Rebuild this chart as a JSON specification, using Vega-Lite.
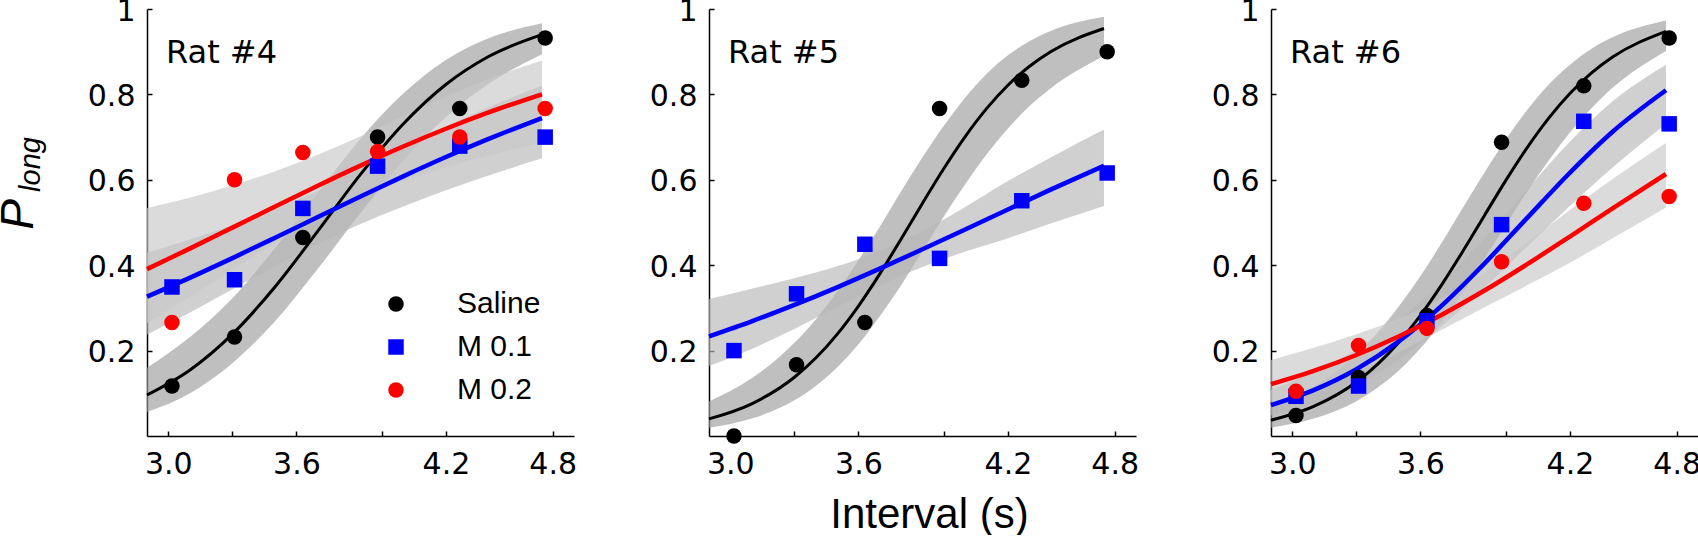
{
  "$schema": "https://vega.github.io/schema/vega-lite/v6.json",
  "padding": {"left": -5, "top": -4, "right": 0, "bottom": 0},
  "background": "white",
  "spacing": 135,
  "bounds": "flush",
  "config": {
    "font": "Liberation Sans",
    "view": {"stroke": null},
    "axis": {
      "grid": false,
      "domainColor": "black",
      "domainWidth": 1.5,
      "tickColor": "black",
      "tickWidth": 1.5,
      "tickSize": -5,
      "labelFont": "DejaVu Sans",
      "labelFontSize": 30,
      "labelColor": "black",
      "titleColor": "black",
      "titleFontWeight": "normal",
      "labelFlush": false,
      "labelOverlap": false,
      "labelBound": false
    },
    "axisX": {"labelPadding": 18},
    "axisY": {"labelPadding": 17, "labelOffset": 2},
    "title": {"font": "DejaVu Sans", "fontSize": 32, "fontWeight": "normal", "color": "black", "anchor": "start", "frame": "group", "baseline": "alphabetic", "offset": -74, "dx": 19}
  },
  "resolve": {"scale": {"color": "independent", "shape": "independent", "fill": "independent"}},
  "datasets": {
    "points": [
      {"rat": "Rat #4", "group": "Saline", "x": 3.017, "p": 0.117},
      {"rat": "Rat #4", "group": "Saline", "x": 3.31, "p": 0.232},
      {"rat": "Rat #4", "group": "Saline", "x": 3.63, "p": 0.465},
      {"rat": "Rat #4", "group": "Saline", "x": 3.98, "p": 0.7},
      {"rat": "Rat #4", "group": "Saline", "x": 4.365, "p": 0.767},
      {"rat": "Rat #4", "group": "Saline", "x": 4.765, "p": 0.932},
      {"rat": "Rat #4", "group": "M 0.1", "x": 3.017, "p": 0.349},
      {"rat": "Rat #4", "group": "M 0.1", "x": 3.31, "p": 0.366},
      {"rat": "Rat #4", "group": "M 0.1", "x": 3.63, "p": 0.533},
      {"rat": "Rat #4", "group": "M 0.1", "x": 3.98, "p": 0.632},
      {"rat": "Rat #4", "group": "M 0.1", "x": 4.365, "p": 0.679},
      {"rat": "Rat #4", "group": "M 0.1", "x": 4.765, "p": 0.7},
      {"rat": "Rat #4", "group": "M 0.2", "x": 3.017, "p": 0.266},
      {"rat": "Rat #4", "group": "M 0.2", "x": 3.31, "p": 0.6},
      {"rat": "Rat #4", "group": "M 0.2", "x": 3.63, "p": 0.664},
      {"rat": "Rat #4", "group": "M 0.2", "x": 3.98, "p": 0.666},
      {"rat": "Rat #4", "group": "M 0.2", "x": 4.365, "p": 0.7},
      {"rat": "Rat #4", "group": "M 0.2", "x": 4.765, "p": 0.767},
      {"rat": "Rat #5", "group": "Saline", "x": 3.017, "p": 0.0},
      {"rat": "Rat #5", "group": "Saline", "x": 3.31, "p": 0.167},
      {"rat": "Rat #5", "group": "Saline", "x": 3.63, "p": 0.266},
      {"rat": "Rat #5", "group": "Saline", "x": 3.98, "p": 0.767},
      {"rat": "Rat #5", "group": "Saline", "x": 4.365, "p": 0.833},
      {"rat": "Rat #5", "group": "Saline", "x": 4.765, "p": 0.9},
      {"rat": "Rat #5", "group": "M 0.1", "x": 3.017, "p": 0.2},
      {"rat": "Rat #5", "group": "M 0.1", "x": 3.31, "p": 0.333},
      {"rat": "Rat #5", "group": "M 0.1", "x": 3.63, "p": 0.449},
      {"rat": "Rat #5", "group": "M 0.1", "x": 3.98, "p": 0.416},
      {"rat": "Rat #5", "group": "M 0.1", "x": 4.365, "p": 0.551},
      {"rat": "Rat #5", "group": "M 0.1", "x": 4.765, "p": 0.616},
      {"rat": "Rat #6", "group": "Saline", "x": 3.017, "p": 0.048},
      {"rat": "Rat #6", "group": "Saline", "x": 3.31, "p": 0.137},
      {"rat": "Rat #6", "group": "Saline", "x": 3.63, "p": 0.282},
      {"rat": "Rat #6", "group": "Saline", "x": 3.98, "p": 0.688},
      {"rat": "Rat #6", "group": "Saline", "x": 4.365, "p": 0.82},
      {"rat": "Rat #6", "group": "Saline", "x": 4.765, "p": 0.932},
      {"rat": "Rat #6", "group": "M 0.1", "x": 3.017, "p": 0.093},
      {"rat": "Rat #6", "group": "M 0.1", "x": 3.31, "p": 0.117},
      {"rat": "Rat #6", "group": "M 0.1", "x": 3.63, "p": 0.27},
      {"rat": "Rat #6", "group": "M 0.1", "x": 3.98, "p": 0.495},
      {"rat": "Rat #6", "group": "M 0.1", "x": 4.365, "p": 0.737},
      {"rat": "Rat #6", "group": "M 0.1", "x": 4.765, "p": 0.731},
      {"rat": "Rat #6", "group": "M 0.2", "x": 3.017, "p": 0.105},
      {"rat": "Rat #6", "group": "M 0.2", "x": 3.31, "p": 0.212},
      {"rat": "Rat #6", "group": "M 0.2", "x": 3.63, "p": 0.252},
      {"rat": "Rat #6", "group": "M 0.2", "x": 3.98, "p": 0.408},
      {"rat": "Rat #6", "group": "M 0.2", "x": 4.365, "p": 0.545},
      {"rat": "Rat #6", "group": "M 0.2", "x": 4.765, "p": 0.561}
    ],
    "fits": [
      {"rat": "Rat #4", "group": "Saline", "x": 2.9, "p": 0.096, "lo": 0.0562, "hi": 0.1596},
      {"rat": "Rat #4", "group": "Saline", "x": 3.1, "p": 0.154, "lo": 0.0997, "hi": 0.2313},
      {"rat": "Rat #4", "group": "Saline", "x": 3.3, "p": 0.2385, "lo": 0.1706, "hi": 0.3228},
      {"rat": "Rat #4", "group": "Saline", "x": 3.5, "p": 0.3495, "lo": 0.2687, "hi": 0.44},
      {"rat": "Rat #4", "group": "Saline", "x": 3.7, "p": 0.4798, "lo": 0.3915, "hi": 0.5693},
      {"rat": "Rat #4", "group": "Saline", "x": 3.9, "p": 0.6127, "lo": 0.5222, "hi": 0.6961},
      {"rat": "Rat #4", "group": "Saline", "x": 4.1, "p": 0.7308, "lo": 0.6454, "hi": 0.802},
      {"rat": "Rat #4", "group": "Saline", "x": 4.3, "p": 0.8233, "lo": 0.7463, "hi": 0.8808},
      {"rat": "Rat #4", "group": "Saline", "x": 4.5, "p": 0.8888, "lo": 0.8247, "hi": 0.9314},
      {"rat": "Rat #4", "group": "Saline", "x": 4.75, "p": 0.94, "lo": 0.8941, "hi": 0.9668},
      {"rat": "Rat #4", "group": "M 0.1", "x": 2.9, "p": 0.3264, "lo": 0.2378, "hi": 0.4294},
      {"rat": "Rat #4", "group": "M 0.1", "x": 3.1, "p": 0.3704, "lo": 0.2889, "hi": 0.4599},
      {"rat": "Rat #4", "group": "M 0.1", "x": 3.3, "p": 0.4166, "lo": 0.3438, "hi": 0.4934},
      {"rat": "Rat #4", "group": "M 0.1", "x": 3.5, "p": 0.4644, "lo": 0.3982, "hi": 0.5318},
      {"rat": "Rat #4", "group": "M 0.1", "x": 3.7, "p": 0.5128, "lo": 0.4505, "hi": 0.5748},
      {"rat": "Rat #4", "group": "M 0.1", "x": 3.9, "p": 0.561, "lo": 0.4964, "hi": 0.6238},
      {"rat": "Rat #4", "group": "M 0.1", "x": 4.1, "p": 0.6081, "lo": 0.5373, "hi": 0.6747},
      {"rat": "Rat #4", "group": "M 0.1", "x": 4.3, "p": 0.6533, "lo": 0.5753, "hi": 0.7238},
      {"rat": "Rat #4", "group": "M 0.1", "x": 4.5, "p": 0.6958, "lo": 0.61, "hi": 0.7698},
      {"rat": "Rat #4", "group": "M 0.1", "x": 4.75, "p": 0.7446, "lo": 0.6502, "hi": 0.8206},
      {"rat": "Rat #4", "group": "M 0.2", "x": 2.9, "p": 0.3908, "lo": 0.2643, "hi": 0.5339},
      {"rat": "Rat #4", "group": "M 0.2", "x": 3.1, "p": 0.4388, "lo": 0.3261, "hi": 0.5582},
      {"rat": "Rat #4", "group": "M 0.2", "x": 3.3, "p": 0.488, "lo": 0.3899, "hi": 0.5871},
      {"rat": "Rat #4", "group": "M 0.2", "x": 3.5, "p": 0.5374, "lo": 0.4526, "hi": 0.6201},
      {"rat": "Rat #4", "group": "M 0.2", "x": 3.7, "p": 0.5861, "lo": 0.5095, "hi": 0.6588},
      {"rat": "Rat #4", "group": "M 0.2", "x": 3.9, "p": 0.6332, "lo": 0.5587, "hi": 0.7018},
      {"rat": "Rat #4", "group": "M 0.2", "x": 4.1, "p": 0.6779, "lo": 0.5972, "hi": 0.7491},
      {"rat": "Rat #4", "group": "M 0.2", "x": 4.3, "p": 0.7195, "lo": 0.63, "hi": 0.7945},
      {"rat": "Rat #4", "group": "M 0.2", "x": 4.5, "p": 0.7577, "lo": 0.657, "hi": 0.8362},
      {"rat": "Rat #4", "group": "M 0.2", "x": 4.75, "p": 0.8002, "lo": 0.6873, "hi": 0.8795},
      {"rat": "Rat #5", "group": "Saline", "x": 2.9, "p": 0.04, "lo": 0.0193, "hi": 0.081},
      {"rat": "Rat #5", "group": "Saline", "x": 3.1, "p": 0.0754, "lo": 0.0408, "hi": 0.135},
      {"rat": "Rat #5", "group": "Saline", "x": 3.3, "p": 0.1376, "lo": 0.0835, "hi": 0.2184},
      {"rat": "Rat #5", "group": "Saline", "x": 3.4, "p": 0.1826, "lo": 0.1172, "hi": 0.2731},
      {"rat": "Rat #5", "group": "Saline", "x": 3.5, "p": 0.2381, "lo": 0.1607, "hi": 0.3378},
      {"rat": "Rat #5", "group": "Saline", "x": 3.6, "p": 0.3044, "lo": 0.2147, "hi": 0.4117},
      {"rat": "Rat #5", "group": "Saline", "x": 3.7, "p": 0.3798, "lo": 0.2807, "hi": 0.4898},
      {"rat": "Rat #5", "group": "Saline", "x": 3.8, "p": 0.4614, "lo": 0.3532, "hi": 0.5732},
      {"rat": "Rat #5", "group": "Saline", "x": 3.9, "p": 0.5452, "lo": 0.4332, "hi": 0.6527},
      {"rat": "Rat #5", "group": "Saline", "x": 4.0, "p": 0.6265, "lo": 0.5142, "hi": 0.7265},
      {"rat": "Rat #5", "group": "Saline", "x": 4.1, "p": 0.7013, "lo": 0.5898, "hi": 0.793},
      {"rat": "Rat #5", "group": "Saline", "x": 4.2, "p": 0.7666, "lo": 0.659, "hi": 0.848},
      {"rat": "Rat #5", "group": "Saline", "x": 4.3, "p": 0.8213, "lo": 0.7201, "hi": 0.8914},
      {"rat": "Rat #5", "group": "Saline", "x": 4.4, "p": 0.8654, "lo": 0.7722, "hi": 0.9242},
      {"rat": "Rat #5", "group": "Saline", "x": 4.5, "p": 0.9, "lo": 0.8141, "hi": 0.9487},
      {"rat": "Rat #5", "group": "Saline", "x": 4.75, "p": 0.9543, "lo": 0.8897, "hi": 0.9818},
      {"rat": "Rat #5", "group": "M 0.1", "x": 2.9, "p": 0.2334, "lo": 0.164, "hi": 0.321},
      {"rat": "Rat #5", "group": "M 0.1", "x": 3.1, "p": 0.2686, "lo": 0.204, "hi": 0.3449},
      {"rat": "Rat #5", "group": "M 0.1", "x": 3.3, "p": 0.307, "lo": 0.2508, "hi": 0.3695},
      {"rat": "Rat #5", "group": "M 0.1", "x": 3.5, "p": 0.3482, "lo": 0.3022, "hi": 0.3973},
      {"rat": "Rat #5", "group": "M 0.1", "x": 3.7, "p": 0.3919, "lo": 0.3522, "hi": 0.433},
      {"rat": "Rat #5", "group": "M 0.1", "x": 3.9, "p": 0.4373, "lo": 0.396, "hi": 0.4795},
      {"rat": "Rat #5", "group": "M 0.1", "x": 4.1, "p": 0.4838, "lo": 0.4318, "hi": 0.5363},
      {"rat": "Rat #5", "group": "M 0.1", "x": 4.3, "p": 0.5306, "lo": 0.4632, "hi": 0.5969},
      {"rat": "Rat #5", "group": "M 0.1", "x": 4.5, "p": 0.5769, "lo": 0.4975, "hi": 0.6525},
      {"rat": "Rat #5", "group": "M 0.1", "x": 4.75, "p": 0.6328, "lo": 0.5385, "hi": 0.718},
      {"rat": "Rat #6", "group": "Saline", "x": 2.9, "p": 0.0369, "lo": 0.0196, "hi": 0.0683},
      {"rat": "Rat #6", "group": "Saline", "x": 3.1, "p": 0.0693, "lo": 0.0408, "hi": 0.1154},
      {"rat": "Rat #6", "group": "Saline", "x": 3.3, "p": 0.1266, "lo": 0.0816, "hi": 0.1914},
      {"rat": "Rat #6", "group": "Saline", "x": 3.4, "p": 0.1683, "lo": 0.1133, "hi": 0.2427},
      {"rat": "Rat #6", "group": "Saline", "x": 3.5, "p": 0.2201, "lo": 0.1538, "hi": 0.3047},
      {"rat": "Rat #6", "group": "Saline", "x": 3.6, "p": 0.2825, "lo": 0.2055, "hi": 0.3747},
      {"rat": "Rat #6", "group": "Saline", "x": 3.7, "p": 0.3546, "lo": 0.2672, "hi": 0.4529},
      {"rat": "Rat #6", "group": "Saline", "x": 3.8, "p": 0.4339, "lo": 0.3372, "hi": 0.5359},
      {"rat": "Rat #6", "group": "Saline", "x": 3.9, "p": 0.5166, "lo": 0.415, "hi": 0.6169},
      {"rat": "Rat #6", "group": "Saline", "x": 4.0, "p": 0.5986, "lo": 0.4949, "hi": 0.6942},
      {"rat": "Rat #6", "group": "Saline", "x": 4.1, "p": 0.6753, "lo": 0.5726, "hi": 0.7636},
      {"rat": "Rat #6", "group": "Saline", "x": 4.2, "p": 0.7438, "lo": 0.6446, "hi": 0.8228},
      {"rat": "Rat #6", "group": "Saline", "x": 4.3, "p": 0.802, "lo": 0.7107, "hi": 0.8697},
      {"rat": "Rat #6", "group": "Saline", "x": 4.4, "p": 0.8496, "lo": 0.767, "hi": 0.9065},
      {"rat": "Rat #6", "group": "Saline", "x": 4.5, "p": 0.8874, "lo": 0.8153, "hi": 0.9337},
      {"rat": "Rat #6", "group": "Saline", "x": 4.75, "p": 0.9477, "lo": 0.9018, "hi": 0.9728},
      {"rat": "Rat #6", "group": "M 0.1", "x": 2.9, "p": 0.0725, "lo": 0.0479, "hi": 0.1082},
      {"rat": "Rat #6", "group": "M 0.1", "x": 3.1, "p": 0.1075, "lo": 0.076, "hi": 0.1497},
      {"rat": "Rat #6", "group": "M 0.1", "x": 3.3, "p": 0.1564, "lo": 0.1187, "hi": 0.2034},
      {"rat": "Rat #6", "group": "M 0.1", "x": 3.5, "p": 0.2222, "lo": 0.179, "hi": 0.2723},
      {"rat": "Rat #6", "group": "M 0.1", "x": 3.7, "p": 0.3055, "lo": 0.2571, "hi": 0.3587},
      {"rat": "Rat #6", "group": "M 0.1", "x": 3.9, "p": 0.404, "lo": 0.3477, "hi": 0.4628},
      {"rat": "Rat #6", "group": "M 0.1", "x": 4.1, "p": 0.5108, "lo": 0.4435, "hi": 0.5777},
      {"rat": "Rat #6", "group": "M 0.1", "x": 4.3, "p": 0.6166, "lo": 0.5387, "hi": 0.689},
      {"rat": "Rat #6", "group": "M 0.1", "x": 4.5, "p": 0.7125, "lo": 0.6288, "hi": 0.7837},
      {"rat": "Rat #6", "group": "M 0.1", "x": 4.75, "p": 0.8096, "lo": 0.7305, "hi": 0.8696},
      {"rat": "Rat #6", "group": "M 0.2", "x": 2.9, "p": 0.1213, "lo": 0.0809, "hi": 0.178},
      {"rat": "Rat #6", "group": "M 0.2", "x": 3.1, "p": 0.1524, "lo": 0.1105, "hi": 0.2065},
      {"rat": "Rat #6", "group": "M 0.2", "x": 3.3, "p": 0.1897, "lo": 0.149, "hi": 0.2383},
      {"rat": "Rat #6", "group": "M 0.2", "x": 3.5, "p": 0.2336, "lo": 0.1965, "hi": 0.2753},
      {"rat": "Rat #6", "group": "M 0.2", "x": 3.7, "p": 0.2841, "lo": 0.249, "hi": 0.3222},
      {"rat": "Rat #6", "group": "M 0.2", "x": 3.9, "p": 0.3407, "lo": 0.3016, "hi": 0.3822},
      {"rat": "Rat #6", "group": "M 0.2", "x": 4.1, "p": 0.4023, "lo": 0.353, "hi": 0.4536},
      {"rat": "Rat #6", "group": "M 0.2", "x": 4.3, "p": 0.467, "lo": 0.4056, "hi": 0.5295},
      {"rat": "Rat #6", "group": "M 0.2", "x": 4.5, "p": 0.533, "lo": 0.4631, "hi": 0.6016},
      {"rat": "Rat #6", "group": "M 0.2", "x": 4.75, "p": 0.6135, "lo": 0.5354, "hi": 0.6861}
    ]
  },
  "hconcat": [
    {
      "width": 427,
      "height": 427,
      "title": {"text": "Rat #4"},
      "resolve": {"scale": {"y": "independent"}},
      "layer": [
        {
          "layer": [
            {
              "data": {"name": "fits"},
              "transform": [{"filter": "datum.rat == 'Rat #4'"}],
              "mark": {"type": "area", "interpolate": "monotone", "fillOpacity": 0.66},
              "encoding": {
                "x": {"field": "x", "type": "quantitative", "scale": {"domain": [2.9, 4.9], "nice": false, "zero": false}, "axis": {"values": [3.0, 3.3, 3.6, 4.0, 4.3, 4.8], "labelExpr": "datum.value == 4.3 ? '4.2' : (datum.value == 3.3 || datum.value == 4) ? '' : format(datum.value, '.1f')", "title": null}},
                "y": {"field": "hi", "type": "quantitative", "scale": {"domain": [0, 1], "nice": false, "zero": false}, "axis": {"values": [0.2, 0.4, 0.6, 0.8, 1], "labelExpr": "datum.value == 1 ? '1' : format(datum.value, '.1f')", "title": "P", "titleFontSize": 46, "titleFontStyle": "italic", "titlePadding": 45, "titleY": 205}},
                "y2": {"field": "lo"},
                "fill": {"field": "group", "type": "nominal", "scale": {"domain": ["M 0.1", "M 0.2", "Saline"], "range": ["#b8b8b8", "#c8c8c8", "#9e9e9e"]}, "legend": null}
              }
            },
            {
              "data": {"name": "fits"},
              "transform": [{"filter": "datum.rat == 'Rat #4' && datum.group == 'Saline'"}],
              "mark": {"type": "line", "interpolate": "monotone", "color": "black", "strokeWidth": 3},
              "encoding": {
                "x": {"field": "x", "type": "quantitative", "scale": {"domain": [2.9, 4.9], "nice": false, "zero": false}, "axis": {"values": [3.0, 3.3, 3.6, 4.0, 4.3, 4.8], "labelExpr": "datum.value == 4.3 ? '4.2' : (datum.value == 3.3 || datum.value == 4) ? '' : format(datum.value, '.1f')", "title": null}},
                "y": {"field": "p", "type": "quantitative", "scale": {"domain": [0, 1], "nice": false, "zero": false}, "axis": {"values": [0.2, 0.4, 0.6, 0.8, 1], "labelExpr": "datum.value == 1 ? '1' : format(datum.value, '.1f')", "title": "P", "titleFontSize": 46, "titleFontStyle": "italic", "titlePadding": 45, "titleY": 205}}
              }
            },
            {
              "data": {"name": "fits"},
              "transform": [{"filter": "datum.rat == 'Rat #4' && datum.group == 'M 0.1'"}],
              "mark": {"type": "line", "interpolate": "monotone", "color": "#0000ff", "strokeWidth": 4.5},
              "encoding": {
                "x": {"field": "x", "type": "quantitative", "scale": {"domain": [2.9, 4.9], "nice": false, "zero": false}, "axis": {"values": [3.0, 3.3, 3.6, 4.0, 4.3, 4.8], "labelExpr": "datum.value == 4.3 ? '4.2' : (datum.value == 3.3 || datum.value == 4) ? '' : format(datum.value, '.1f')", "title": null}},
                "y": {"field": "p", "type": "quantitative", "scale": {"domain": [0, 1], "nice": false, "zero": false}, "axis": {"values": [0.2, 0.4, 0.6, 0.8, 1], "labelExpr": "datum.value == 1 ? '1' : format(datum.value, '.1f')", "title": "P", "titleFontSize": 46, "titleFontStyle": "italic", "titlePadding": 45, "titleY": 205}}
              }
            },
            {
              "data": {"name": "fits"},
              "transform": [{"filter": "datum.rat == 'Rat #4' && datum.group == 'M 0.2'"}],
              "mark": {"type": "line", "interpolate": "monotone", "color": "#ff0000", "strokeWidth": 4.5},
              "encoding": {
                "x": {"field": "x", "type": "quantitative", "scale": {"domain": [2.9, 4.9], "nice": false, "zero": false}, "axis": {"values": [3.0, 3.3, 3.6, 4.0, 4.3, 4.8], "labelExpr": "datum.value == 4.3 ? '4.2' : (datum.value == 3.3 || datum.value == 4) ? '' : format(datum.value, '.1f')", "title": null}},
                "y": {"field": "p", "type": "quantitative", "scale": {"domain": [0, 1], "nice": false, "zero": false}, "axis": {"values": [0.2, 0.4, 0.6, 0.8, 1], "labelExpr": "datum.value == 1 ? '1' : format(datum.value, '.1f')", "title": "P", "titleFontSize": 46, "titleFontStyle": "italic", "titlePadding": 45, "titleY": 205}}
              }
            },
            {
              "data": {"name": "points"},
              "transform": [{"filter": "datum.rat == 'Rat #4'"}],
              "mark": {"type": "point", "filled": true, "opacity": 1, "size": 240},
              "encoding": {
                "x": {"field": "x", "type": "quantitative", "scale": {"domain": [2.9, 4.9], "nice": false, "zero": false}, "axis": {"values": [3.0, 3.3, 3.6, 4.0, 4.3, 4.8], "labelExpr": "datum.value == 4.3 ? '4.2' : (datum.value == 3.3 || datum.value == 4) ? '' : format(datum.value, '.1f')", "title": null}},
                "y": {"field": "p", "type": "quantitative", "scale": {"domain": [0, 1], "nice": false, "zero": false}, "axis": {"values": [0.2, 0.4, 0.6, 0.8, 1], "labelExpr": "datum.value == 1 ? '1' : format(datum.value, '.1f')", "title": "P", "titleFontSize": 46, "titleFontStyle": "italic", "titlePadding": 45, "titleY": 205}},
                "color": {"field": "group", "type": "nominal", "sort": null, "scale": {"domain": ["Saline", "M 0.1", "M 0.2"], "range": ["black", "#0000ff", "#ff0000"]}, "legend": {"title": null, "orient": "none", "legendX": 234, "legendY": 280, "labelFontSize": 30, "labelColor": "black", "labelOffset": 46, "symbolSize": 240, "rowPadding": 13, "padding": 0}},
                "shape": {"field": "group", "type": "nominal", "sort": null, "scale": {"domain": ["Saline", "M 0.1", "M 0.2"], "range": ["circle", "square", "circle"]}, "legend": {"title": null, "orient": "none", "legendX": 234, "legendY": 280, "labelFontSize": 30, "labelColor": "black", "labelOffset": 46, "symbolSize": 240, "rowPadding": 13, "padding": 0}}
              }
            }
          ]
        },
        {
          "data": {"name": "points"},
          "transform": [{"filter": "datum.rat == 'Rat #4'"}],
          "mark": {"type": "point", "opacity": 0},
          "encoding": {
            "y": {"field": "p", "type": "quantitative", "scale": {"domain": [0, 1], "nice": false, "zero": false}, "axis": {"orient": "left", "title": "long", "titleFontSize": 29, "titleFontStyle": "italic", "labels": false, "ticks": false, "domain": false, "minExtent": 0, "titlePadding": 102, "titleY": 155}}
          }
        }
      ]
    },
    {
      "width": 427,
      "height": 427,
      "title": {"text": "Rat #5"},
      "layer": [
        {
          "data": {"name": "fits"},
          "transform": [{"filter": "datum.rat == 'Rat #5'"}],
          "mark": {"type": "area", "interpolate": "monotone", "fillOpacity": 0.66},
          "encoding": {
            "x": {"field": "x", "type": "quantitative", "scale": {"domain": [2.9, 4.9], "nice": false, "zero": false}, "axis": {"values": [3.0, 3.3, 3.6, 4.0, 4.3, 4.8], "labelExpr": "datum.value == 4.3 ? '4.2' : (datum.value == 3.3 || datum.value == 4) ? '' : format(datum.value, '.1f')", "title": "Interval (s)", "titleFontSize": 42, "titlePadding": 15, "titleX": 220}},
            "y": {"field": "hi", "type": "quantitative", "scale": {"domain": [0, 1], "nice": false, "zero": false}, "axis": {"values": [0.2, 0.4, 0.6, 0.8, 1], "labelExpr": "datum.value == 1 ? '1' : format(datum.value, '.1f')", "title": null}},
            "y2": {"field": "lo"},
            "fill": {"field": "group", "type": "nominal", "scale": {"domain": ["M 0.1", "M 0.2", "Saline"], "range": ["#b8b8b8", "#c8c8c8", "#9e9e9e"]}, "legend": null}
          }
        },
        {
          "data": {"name": "fits"},
          "transform": [{"filter": "datum.rat == 'Rat #5' && datum.group == 'Saline'"}],
          "mark": {"type": "line", "interpolate": "monotone", "color": "black", "strokeWidth": 3},
          "encoding": {
            "x": {"field": "x", "type": "quantitative", "scale": {"domain": [2.9, 4.9], "nice": false, "zero": false}, "axis": {"values": [3.0, 3.3, 3.6, 4.0, 4.3, 4.8], "labelExpr": "datum.value == 4.3 ? '4.2' : (datum.value == 3.3 || datum.value == 4) ? '' : format(datum.value, '.1f')", "title": "Interval (s)", "titleFontSize": 42, "titlePadding": 15, "titleX": 220}},
            "y": {"field": "p", "type": "quantitative", "scale": {"domain": [0, 1], "nice": false, "zero": false}, "axis": {"values": [0.2, 0.4, 0.6, 0.8, 1], "labelExpr": "datum.value == 1 ? '1' : format(datum.value, '.1f')", "title": null}}
          }
        },
        {
          "data": {"name": "fits"},
          "transform": [{"filter": "datum.rat == 'Rat #5' && datum.group == 'M 0.1'"}],
          "mark": {"type": "line", "interpolate": "monotone", "color": "#0000ff", "strokeWidth": 4.5},
          "encoding": {
            "x": {"field": "x", "type": "quantitative", "scale": {"domain": [2.9, 4.9], "nice": false, "zero": false}, "axis": {"values": [3.0, 3.3, 3.6, 4.0, 4.3, 4.8], "labelExpr": "datum.value == 4.3 ? '4.2' : (datum.value == 3.3 || datum.value == 4) ? '' : format(datum.value, '.1f')", "title": "Interval (s)", "titleFontSize": 42, "titlePadding": 15, "titleX": 220}},
            "y": {"field": "p", "type": "quantitative", "scale": {"domain": [0, 1], "nice": false, "zero": false}, "axis": {"values": [0.2, 0.4, 0.6, 0.8, 1], "labelExpr": "datum.value == 1 ? '1' : format(datum.value, '.1f')", "title": null}}
          }
        },
        {
          "data": {"name": "points"},
          "transform": [{"filter": "datum.rat == 'Rat #5'"}],
          "mark": {"type": "point", "filled": true, "opacity": 1, "size": 240},
          "encoding": {
            "x": {"field": "x", "type": "quantitative", "scale": {"domain": [2.9, 4.9], "nice": false, "zero": false}, "axis": {"values": [3.0, 3.3, 3.6, 4.0, 4.3, 4.8], "labelExpr": "datum.value == 4.3 ? '4.2' : (datum.value == 3.3 || datum.value == 4) ? '' : format(datum.value, '.1f')", "title": "Interval (s)", "titleFontSize": 42, "titlePadding": 15, "titleX": 220}},
            "y": {"field": "p", "type": "quantitative", "scale": {"domain": [0, 1], "nice": false, "zero": false}, "axis": {"values": [0.2, 0.4, 0.6, 0.8, 1], "labelExpr": "datum.value == 1 ? '1' : format(datum.value, '.1f')", "title": null}},
            "color": {"field": "group", "type": "nominal", "sort": null, "scale": {"domain": ["Saline", "M 0.1", "M 0.2"], "range": ["black", "#0000ff", "#ff0000"]}, "legend": null},
            "shape": {"field": "group", "type": "nominal", "sort": null, "scale": {"domain": ["Saline", "M 0.1", "M 0.2"], "range": ["circle", "square", "circle"]}, "legend": null}
          }
        }
      ]
    },
    {
      "width": 427,
      "height": 427,
      "title": {"text": "Rat #6"},
      "layer": [
        {
          "data": {"name": "fits"},
          "transform": [{"filter": "datum.rat == 'Rat #6'"}],
          "mark": {"type": "area", "interpolate": "monotone", "fillOpacity": 0.66},
          "encoding": {
            "x": {"field": "x", "type": "quantitative", "scale": {"domain": [2.9, 4.9], "nice": false, "zero": false}, "axis": {"values": [3.0, 3.3, 3.6, 4.0, 4.3, 4.8], "labelExpr": "datum.value == 4.3 ? '4.2' : (datum.value == 3.3 || datum.value == 4) ? '' : format(datum.value, '.1f')", "title": null}},
            "y": {"field": "hi", "type": "quantitative", "scale": {"domain": [0, 1], "nice": false, "zero": false}, "axis": {"values": [0.2, 0.4, 0.6, 0.8, 1], "labelExpr": "datum.value == 1 ? '1' : format(datum.value, '.1f')", "title": null}},
            "y2": {"field": "lo"},
            "fill": {"field": "group", "type": "nominal", "scale": {"domain": ["M 0.1", "M 0.2", "Saline"], "range": ["#b8b8b8", "#c8c8c8", "#9e9e9e"]}, "legend": null}
          }
        },
        {
          "data": {"name": "fits"},
          "transform": [{"filter": "datum.rat == 'Rat #6' && datum.group == 'Saline'"}],
          "mark": {"type": "line", "interpolate": "monotone", "color": "black", "strokeWidth": 3},
          "encoding": {
            "x": {"field": "x", "type": "quantitative", "scale": {"domain": [2.9, 4.9], "nice": false, "zero": false}, "axis": {"values": [3.0, 3.3, 3.6, 4.0, 4.3, 4.8], "labelExpr": "datum.value == 4.3 ? '4.2' : (datum.value == 3.3 || datum.value == 4) ? '' : format(datum.value, '.1f')", "title": null}},
            "y": {"field": "p", "type": "quantitative", "scale": {"domain": [0, 1], "nice": false, "zero": false}, "axis": {"values": [0.2, 0.4, 0.6, 0.8, 1], "labelExpr": "datum.value == 1 ? '1' : format(datum.value, '.1f')", "title": null}}
          }
        },
        {
          "data": {"name": "fits"},
          "transform": [{"filter": "datum.rat == 'Rat #6' && datum.group == 'M 0.1'"}],
          "mark": {"type": "line", "interpolate": "monotone", "color": "#0000ff", "strokeWidth": 4.5},
          "encoding": {
            "x": {"field": "x", "type": "quantitative", "scale": {"domain": [2.9, 4.9], "nice": false, "zero": false}, "axis": {"values": [3.0, 3.3, 3.6, 4.0, 4.3, 4.8], "labelExpr": "datum.value == 4.3 ? '4.2' : (datum.value == 3.3 || datum.value == 4) ? '' : format(datum.value, '.1f')", "title": null}},
            "y": {"field": "p", "type": "quantitative", "scale": {"domain": [0, 1], "nice": false, "zero": false}, "axis": {"values": [0.2, 0.4, 0.6, 0.8, 1], "labelExpr": "datum.value == 1 ? '1' : format(datum.value, '.1f')", "title": null}}
          }
        },
        {
          "data": {"name": "fits"},
          "transform": [{"filter": "datum.rat == 'Rat #6' && datum.group == 'M 0.2'"}],
          "mark": {"type": "line", "interpolate": "monotone", "color": "#ff0000", "strokeWidth": 4.5},
          "encoding": {
            "x": {"field": "x", "type": "quantitative", "scale": {"domain": [2.9, 4.9], "nice": false, "zero": false}, "axis": {"values": [3.0, 3.3, 3.6, 4.0, 4.3, 4.8], "labelExpr": "datum.value == 4.3 ? '4.2' : (datum.value == 3.3 || datum.value == 4) ? '' : format(datum.value, '.1f')", "title": null}},
            "y": {"field": "p", "type": "quantitative", "scale": {"domain": [0, 1], "nice": false, "zero": false}, "axis": {"values": [0.2, 0.4, 0.6, 0.8, 1], "labelExpr": "datum.value == 1 ? '1' : format(datum.value, '.1f')", "title": null}}
          }
        },
        {
          "data": {"name": "points"},
          "transform": [{"filter": "datum.rat == 'Rat #6'"}],
          "mark": {"type": "point", "filled": true, "opacity": 1, "size": 240},
          "encoding": {
            "x": {"field": "x", "type": "quantitative", "scale": {"domain": [2.9, 4.9], "nice": false, "zero": false}, "axis": {"values": [3.0, 3.3, 3.6, 4.0, 4.3, 4.8], "labelExpr": "datum.value == 4.3 ? '4.2' : (datum.value == 3.3 || datum.value == 4) ? '' : format(datum.value, '.1f')", "title": null}},
            "y": {"field": "p", "type": "quantitative", "scale": {"domain": [0, 1], "nice": false, "zero": false}, "axis": {"values": [0.2, 0.4, 0.6, 0.8, 1], "labelExpr": "datum.value == 1 ? '1' : format(datum.value, '.1f')", "title": null}},
            "color": {"field": "group", "type": "nominal", "sort": null, "scale": {"domain": ["Saline", "M 0.1", "M 0.2"], "range": ["black", "#0000ff", "#ff0000"]}, "legend": null},
            "shape": {"field": "group", "type": "nominal", "sort": null, "scale": {"domain": ["Saline", "M 0.1", "M 0.2"], "range": ["circle", "square", "circle"]}, "legend": null}
          }
        }
      ]
    }
  ]
}
